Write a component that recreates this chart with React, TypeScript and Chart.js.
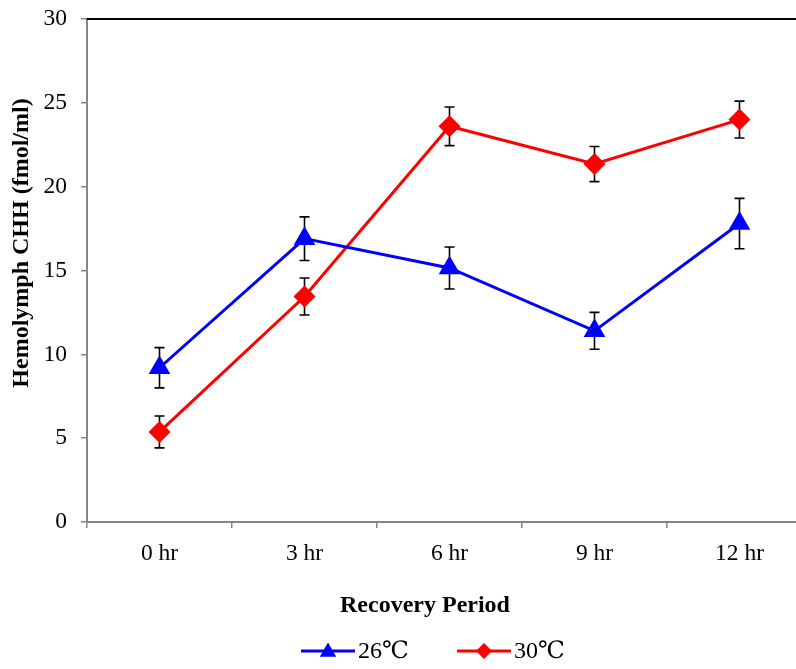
import React, { useEffect, useRef } from 'react';
import { Chart, registerables } from 'chart.js';

Chart.register(...registerables);

const categories = ['0 hr', '3 hr', '6 hr', '9 hr', '12 hr'];
const series26 = [9.2, 16.9, 15.15, 11.4, 17.8];
const err26 = [1.2, 1.3, 1.25, 1.1, 1.5];
const series30 = [5.37, 13.45, 23.6, 21.35, 24.0];
const err30 = [0.95, 1.1, 1.15, 1.05, 1.1];
const yTicks = [0, 5, 10, 15, 20, 25, 30];
const legendLabels = ['26\u2103', '30\u2103'];
const xTitle = 'Recovery Period';
const yTitle = 'Hemolymph CHH (fmol/ml)';

const SERIF = '"Liberation Serif", "DejaVu Serif", "Times New Roman", serif';
const AXIS_GRAY = '#868686';

const errorBarPlugin = {
  id: 'errorBars',
  beforeDatasetsDraw(chart: any) {
    const ctx = chart.ctx;
    const yScale = chart.scales.y;
    ctx.save();
    ctx.strokeStyle = '#000';
    ctx.lineWidth = 1.6;
    chart.data.datasets.forEach((ds: any, i: number) => {
      const meta = chart.getDatasetMeta(i);
      ds.values.forEach((v: number, j: number) => {
        const e = ds.errors[j];
        const x = meta.data[j].x;
        const yt = yScale.getPixelForValue(v + e);
        const yb = yScale.getPixelForValue(v - e);
        const cap = 5;
        ctx.beginPath();
        ctx.moveTo(x, yt);
        ctx.lineTo(x, yb);
        ctx.moveTo(x - cap, yt);
        ctx.lineTo(x + cap, yt);
        ctx.moveTo(x - cap, yb);
        ctx.lineTo(x + cap, yb);
        ctx.stroke();
      });
    });
    ctx.restore();
  },
};

function drawMarker(ctx: CanvasRenderingContext2D, style: string, x: number, y: number, r: number, color: string) {
  ctx.fillStyle = color;
  ctx.beginPath();
  if (style === 'triangle') {
    ctx.moveTo(x, y - r);
    ctx.lineTo(x + r * 0.866, y + r * 0.5);
    ctx.lineTo(x - r * 0.866, y + r * 0.5);
  } else {
    ctx.moveTo(x, y - r);
    ctx.lineTo(x + r, y);
    ctx.lineTo(x, y + r);
    ctx.lineTo(x - r, y);
  }
  ctx.closePath();
  ctx.fill();
}

const decorPlugin = {
  id: 'decor',
  afterDraw(chart: any) {
    const ctx = chart.ctx;
    const area = chart.chartArea;
    ctx.save();
    // top border of plot area
    ctx.strokeStyle = '#000';
    ctx.lineWidth = 2;
    ctx.beginPath();
    ctx.moveTo(area.left, area.top);
    ctx.lineTo(chart.width, area.top);
    ctx.stroke();

    // axis titles
    ctx.fillStyle = '#000';
    ctx.font = 'bold 24px ' + SERIF;
    ctx.textAlign = 'center';
    ctx.textBaseline = 'middle';
    ctx.fillText(xTitle, 425, 606);
    ctx.save();
    ctx.translate(22, 243);
    ctx.rotate(-Math.PI / 2);
    ctx.fillText(yTitle, 0, 0);
    ctx.restore();

    // legend
    const ly = 651;
    const items = [
      { x0: 301, style: 'triangle', color: '#0000FF', r: 9.5 },
      { x0: 457, style: 'rectRot', color: '#FF0000', r: 8 },
    ];
    ctx.font = '24px ' + SERIF;
    ctx.textAlign = 'left';
    items.forEach((it, i) => {
      ctx.strokeStyle = it.color;
      ctx.lineWidth = 3;
      ctx.beginPath();
      ctx.moveTo(it.x0, ly);
      ctx.lineTo(it.x0 + 54, ly);
      ctx.stroke();
      drawMarker(ctx, it.style, it.x0 + 27, ly + (it.style === 'triangle' ? 1 : 0), it.r, it.color);
      ctx.fillStyle = '#000';
      ctx.fillText(legendLabels[i], it.x0 + 57, ly + 1);
    });
    ctx.restore();
  },
};

export default function App() {
  const canvasRef = useRef<HTMLCanvasElement | null>(null);

  useEffect(() => {
    document.body.style.margin = '0';
    const canvas = canvasRef.current;
    if (!canvas) return;
    const chart = new Chart(canvas, {
      type: 'line',
      data: {
        labels: categories,
        datasets: [
          {
            label: legendLabels[0],
            data: series26,
            values: series26,
            errors: err26,
            borderColor: '#0000FF',
            backgroundColor: '#0000FF',
            borderWidth: 3,
            pointStyle: 'triangle',
            pointRadius: 12.5,
            pointBorderWidth: 0,
            tension: 0,
          } as any,
          {
            label: legendLabels[1],
            data: series30,
            values: series30,
            errors: err30,
            borderColor: '#FF0000',
            backgroundColor: '#FF0000',
            borderWidth: 3,
            pointStyle: 'rectRot',
            pointRadius: 11,
            pointBorderWidth: 0,
            tension: 0,
          } as any,
        ],
      },
      options: {
        responsive: false,
        animation: false,
        devicePixelRatio: 1,
        layout: { padding: { top: 19, right: 18, left: 0, bottom: 0 } },
        plugins: {
          legend: { display: false },
          tooltip: { enabled: false },
          title: { display: false },
        },
        scales: {
          x: {
            type: 'category',
            offset: true,
            grid: {
              offset: true,
              drawOnChartArea: false,
              drawTicks: true,
              tickLength: 6,
              color: AXIS_GRAY,
              lineWidth: 1.5,
            },
            border: { color: AXIS_GRAY, width: 2 },
            ticks: {
              color: '#000',
              font: { family: SERIF, size: 23.5 },
              padding: 12,
              maxRotation: 0,
              autoSkip: false,
            },
            afterFit(scale: any) {
              scale.height = 147;
              scale.paddingLeft = 0;
              scale.paddingRight = 0;
            },
          },
          y: {
            min: 0,
            max: 30,
            grid: {
              drawOnChartArea: false,
              drawTicks: true,
              tickLength: 6,
              color: AXIS_GRAY,
              lineWidth: 1.5,
            },
            border: { color: AXIS_GRAY, width: 2 },
            ticks: {
              stepSize: 5,
              color: '#000',
              font: { family: SERIF, size: 23.5 },
              padding: 14,
              callback: (v: any) => (yTicks.includes(Number(v)) ? String(v) : ''),
            },
            afterFit(scale: any) {
              scale.width = 87;
              scale.paddingTop = 0;
              scale.paddingBottom = 0;
            },
          },
        },
      } as any,
      plugins: [errorBarPlugin, decorPlugin],
    });
    return () => chart.destroy();
  }, []);

  return (
    <div style={{ width: 796, height: 669, overflow: 'hidden', position: 'relative' }}>
      <canvas ref={canvasRef} width={830} height={669} style={{ width: 830, height: 669, display: 'block' }} />
    </div>
  );
}
